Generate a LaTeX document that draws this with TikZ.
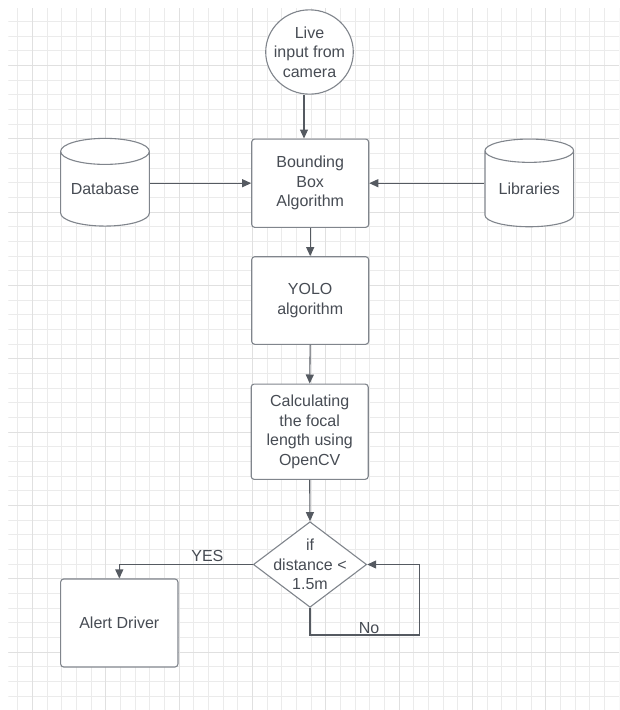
\documentclass[tikz,border=0pt]{standalone}
\usepackage{fontspec}
\setmainfont{Liberation Sans}
\usetikzlibrary{shapes.geometric,arrows.meta}

\definecolor{gridminor}{HTML}{EBEBEB}
\definecolor{gridmajor}{HTML}{E0E0E0}
\definecolor{edgegray}{HTML}{80858C}
\definecolor{linegray}{HTML}{555A61}
\definecolor{textgray}{HTML}{474C54}

\tikzset{
    lbl/.style={text=textgray, font=\fontsize{16}{19.5}\selectfont, align=center},
    procbox/.style={lbl, draw=edgegray, line width=1.1pt, rounded corners=3pt, fill=white,
        inner sep=0pt, minimum width=117pt},
    store/.style={lbl, draw=edgegray, line width=1.1pt, fill=white, cylinder,
        shape border rotate=90, aspect=0.38, inner sep=0pt,
        minimum width=88.7pt, minimum height=87.7pt},
    flow/.style={draw=linegray, line width=1.1pt, -{Triangle[length=9pt, width=8pt]}},
}

\begin{document}
\begin{tikzpicture}[x=1pt, y=-1pt]
    \useasboundingbox[fill=white] (0,0) rectangle (619,710);

    % background grid
    \begin{scope}
        \clip (8.3,8.3) rectangle (619,710);
        \foreach \k in {-1,...,40}
            \draw[gridminor, line width=1pt] ({round(32+14.667*\k)+0.5},0) -- ({round(32+14.667*\k)+0.5},710);
        \foreach \k in {-3,...,43}
            \draw[gridminor, line width=1pt] (0,{round(65+14.667*\k)+0.5}) -- (619,{round(65+14.667*\k)+0.5});
        \foreach \k in {0,5,...,40}
            \draw[gridmajor, line width=1.4pt] ({round(32+14.667*\k)+0.5},0) -- ({round(32+14.667*\k)+0.5},710);
        \foreach \k in {0,5,...,40}
            \draw[gridmajor, line width=1.4pt] (0,{round(65+14.667*\k)+0.5}) -- (619,{round(65+14.667*\k)+0.5});
    \end{scope}

    % input and stores
    \node[ellipse, draw=edgegray, line width=1.1pt, fill=white, inner sep=0pt,
        minimum width=87.6pt, minimum height=84.3pt,
        label={[lbl]center:{Live\\input from\\camera}}] (cam) at (309.5,52) {};
    \node[store] (db) at (105,189) {Database};
    \node[store] (lib) at (529.3,189) {Libraries};

    % process steps
    \node[procbox, minimum height=88.3pt] (bba) at (310.2,183.2) {Bounding\\Box\\Algorithm};
    \node[procbox, minimum height=87.6pt] (yolo) at (310.2,300.5) {YOLO\\algorithm};
    \node[procbox, minimum height=95.3pt] (calc) at (309.7,431.7)
        {Calculating\\the focal\\length using\\OpenCV};

    % decision
    \node[diamond, draw=edgegray, line width=1.1pt, fill=white, inner sep=0pt, aspect=1.32,
        minimum width=113.3pt, minimum height=85.6pt,
        label={[lbl]center:{if\\distance <\\1.5m}}] (dist) at (310,564.5) {};
    \node[procbox, minimum width=117.3pt, minimum height=88pt] (alert) at (119.3,623) {Alert Driver};
    \coordinate (noturn) at (419.3,635);

    % connectors
    \draw[flow] ([xshift=-5.5pt]cam.south) -- ([xshift=-5.5pt]cam.south |- bba.north);
    \draw[flow] (db.east |- bba.west) -- (bba.west);
    \draw[flow] (lib.west |- bba.east) -- (bba.east);
    \draw[flow] (bba.south) -- (yolo.north);
    \draw[flow] (yolo.south) -- (calc.north);
    \draw[flow] (calc.south) -- (dist.north);
    \draw[flow] (dist.west) -| (alert.north) node[lbl, above, pos=0.17, inner sep=2pt] {YES};
    \draw[flow] (dist.south) |- (noturn) node[lbl, above, pos=0.77, inner sep=1pt] {No}
        |- (dist.east);
\end{tikzpicture}
\end{document}
